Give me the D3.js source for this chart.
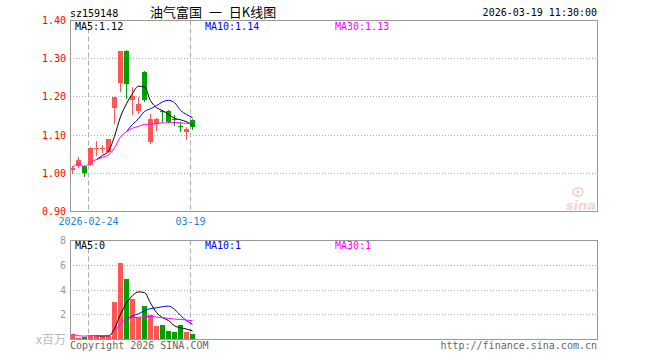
<!DOCTYPE html>
<html><head><meta charset="utf-8">
<script src="https://cdn.jsdelivr.net/npm/d3@7"></script>
<style>
body{margin:0;background:#fff;}
svg{display:block;}
text{font-family:"DejaVu Sans Mono",monospace;font-size:10px;}
</style></head><body>
<svg id="c" width="660" height="360"></svg>
<script>
// ---------------- data ----------------
const code = "sz159148";
const title = "油气富国 一 日K线图";
const stamp = "2026-03-19 11:30:00";
const dates = ["2026-02-11","2026-02-12","2026-02-13","2026-02-24","2026-02-25","2026-02-26","2026-02-27",
  "2026-03-02","2026-03-03","2026-03-04","2026-03-05","2026-03-06","2026-03-09","2026-03-10","2026-03-11",
  "2026-03-12","2026-03-13","2026-03-16","2026-03-17","2026-03-18","2026-03-19"];
const open  = [1.008,1.018,1.018,1.022,1.063,1.065,1.057,1.170,1.237,1.321,1.193,1.162,1.266,1.083,1.129,1.164,1.163,1.142,1.125,1.108,1.140];
const high  = [1.020,1.042,1.021,1.068,1.085,1.075,1.091,1.201,1.321,1.323,1.227,1.199,1.268,1.155,1.146,1.166,1.166,1.153,1.135,1.121,1.141];
const low   = [1.001,1.016,0.992,1.021,1.048,1.057,1.056,1.131,1.216,1.197,1.154,1.159,1.188,1.080,1.114,1.135,1.134,1.127,1.112,1.090,1.116];
const close = [1.015,1.035,1.002,1.065,1.065,1.067,1.090,1.200,1.320,1.233,1.203,1.182,1.192,1.142,1.143,1.160,1.135,1.140,1.123,1.116,1.122];
const volume = [0.45,0.15,0.22,0.37,0.37,0.29,0.28,3.05,6.20,4.90,3.30,1.80,2.74,1.98,1.10,1.17,0.68,0.60,1.17,0.60,0.44];
const ma5  = [null,null,null,null,1.036,1.047,1.058,1.097,1.148,1.182,1.209,1.228,1.226,1.190,1.172,1.164,1.154,1.144,1.140,1.135,1.127];
const ma10 = [null,null,null,null,null,null,null,null,null,1.109,1.128,1.143,1.162,1.169,1.177,1.187,1.191,1.185,1.165,1.154,1.146];
const ma30 = [1.015,1.025,1.017,1.029,1.036,1.042,1.048,1.067,1.095,1.109,1.118,1.123,1.128,1.129,1.130,1.132,1.132,1.133,1.132,1.131,1.131];
const vma5  = [null,null,null,null,0.312,0.280,0.306,0.872,2.038,2.944,3.546,3.850,3.788,2.944,2.184,1.758,1.534,1.106,0.944,0.844,0.698];
const vma10 = [null,null,null,null,null,null,null,null,null,1.628,1.913,2.078,2.330,2.491,2.564,2.652,2.692,2.447,1.944,1.514,1.228];
const vma30 = [0.450,0.300,0.273,0.298,0.312,0.308,0.304,0.648,1.264,1.628,1.780,1.782,1.855,1.864,1.813,1.773,1.709,1.647,1.622,1.571,1.517];
const priceTicks = [1.40,1.30,1.20,1.10,1.00,0.90];
const volTicks = [8,6,4,2];
const xTickDates = ["2026-02-24","2026-03-19"];
const xTickLabels = ["2026-02-24","03-19"];
const priceLegend = ["MA5:1.12","MA10:1.14","MA30:1.13"];
const volLegend = ["MA5:0","MA10:1","MA30:1"];
const volUnit = "x百万";

// ---------------- layout ----------------
const L = 70, R = 597;
const UP = "#ff5555", DOWN = "#00a000";
const maColors = ["#000000","#0000ff","#ff00ff"];
const svg = d3.select("#c");

const x = d3.scaleBand().domain(dates).range([L, L + 6*dates.length]);
const bw = x.bandwidth() - 1;
const cx = d => x(d) + bw/2;
const y = d3.scaleLinear().domain([0.9,1.4]).range([211.5,20.5]);
const yv = d3.scaleLinear().domain([0,8]).range([339.5,240.5]);
const snap = v => Math.round(v - 0.5) + 0.5;

// header
svg.append("text").attr("x",L).attr("y",16.5).attr("fill","#000").text(code);
svg.append("text").attr("x",150).attr("y",16.5).attr("fill","#000")
  .style("font-family","'Noto Sans CJK SC',sans-serif").style("font-size","13px")
  .style("word-spacing","4px")
  .attr("xml:space","preserve").style("white-space","pre").text(title);
svg.append("text").attr("x",R).attr("y",16).attr("text-anchor","end").attr("fill","#000").text(stamp);

function panel(ys, ticks, top, bottom, tickFmt, tickColor) {
  ticks.forEach(t => {
    const yy = snap(ys(t));
    if (Math.abs(yy - top) > 2 && Math.abs(yy - bottom) > 2)
      svg.append("line").attr("x1",L).attr("x2",R).attr("y1",yy).attr("y2",yy)
        .attr("stroke","#aaa").attr("stroke-dasharray","1,2");
    svg.append("text").attr("x",66).attr("y",ys(t)).attr("dy","0.35em").attr("text-anchor","end")
      .attr("fill",tickColor).text(tickFmt(t));
  });
  xTickDates.forEach(d => {
    svg.append("line").attr("x1",x(d)+0.5).attr("x2",x(d)+0.5).attr("y1",top).attr("y2",bottom)
      .attr("stroke","#aaa").attr("stroke-dasharray","5,3");
  });
}

// ---------- price panel ----------
panel(y, priceTicks, 20.5, 211.5, d3.format(".2f"), "#ff0000");

dates.forEach((d,i) => {
  const col = close[i] >= open[i] ? UP : DOWN;
  svg.append("line").attr("x1",x(d)+2.5).attr("x2",x(d)+2.5)
    .attr("y1",Math.round(y(high[i]))).attr("y2",Math.round(y(low[i]))+1).attr("stroke",col);
  const t = Math.round(y(Math.max(open[i],close[i])));
  const b = Math.round(y(Math.min(open[i],close[i])));
  svg.append("rect").attr("x",x(d)).attr("width",bw).attr("y",t).attr("height",Math.max(1,b-t))
    .attr("fill",col).attr("shape-rendering","crispEdges");
});

const mkLine = ys => d3.line().defined(v => v != null).x((v,i) => cx(dates[i])).y(v => ys(v)).curve(d3.curveMonotoneX);
[ma5, ma10, ma30].forEach((s,k) => {
  svg.append("path").attr("d", mkLine(y)(s)).attr("fill","none").attr("stroke",maColors[k]).attr("stroke-width",1);
});

svg.append("rect").attr("x",L+0.5).attr("y",20.5).attr("width",R-L).attr("height",191)
  .attr("fill","none").attr("stroke","#999");

[75,205,335].forEach((xx,k) => {
  svg.append("text").attr("x",xx).attr("y",29.5).attr("fill",maColors[k]).text(priceLegend[k]);
});

xTickDates.forEach((d,k) => {
  svg.append("text").attr("x",x(d)+0.5).attr("y",225).attr("text-anchor","middle")
    .attr("fill","#1a86d0").text(xTickLabels[k]);
});

// sina watermark
const wm = svg.append("g").attr("opacity",0.45);
wm.append("ellipse").attr("cx",578).attr("cy",192).attr("rx",5).attr("ry",4).attr("fill","none").attr("stroke","#e88").attr("stroke-width",1.5);
wm.append("circle").attr("cx",578).attr("cy",192).attr("r",1.8).attr("fill","#d99");
wm.append("text").attr("x",581).attr("y",210).attr("text-anchor","middle")
  .style("font-family","'DejaVu Sans',sans-serif").style("font-size","13px").style("font-style","italic").style("font-weight","bold")
  .attr("fill","#e9a0a0").text("sina");

// ---------- volume panel ----------
panel(yv, volTicks, 240.5, 339.5, d3.format("d"), "#999");

dates.forEach((d,i) => {
  const col = close[i] >= open[i] ? UP : DOWN;
  const t = Math.round(yv(volume[i]));
  svg.append("rect").attr("x",x(d)).attr("width",bw).attr("y",t).attr("height",339 - t)
    .attr("fill",col).attr("shape-rendering","crispEdges");
});
[vma5, vma10, vma30].forEach((s,k) => {
  svg.append("path").attr("d", mkLine(yv)(s)).attr("fill","none").attr("stroke",maColors[k]).attr("stroke-width",1);
});
svg.append("rect").attr("x",L+0.5).attr("y",240.5).attr("width",R-L).attr("height",99)
  .attr("fill","none").attr("stroke","#999");
[75,205,335].forEach((xx,k) => {
  svg.append("text").attr("x",xx).attr("y",249).attr("fill",maColors[k]).text(volLegend[k]);
});
svg.append("text").attr("x",66).attr("y",344).attr("text-anchor","end").attr("fill","#bbb")
  .style("font-family","'Noto Sans CJK SC',sans-serif").style("font-size","12px").text(volUnit);

svg.append("text").attr("x",L).attr("y",348.5).attr("fill","#666").text("Copyright 2026 SINA.COM");
svg.append("text").attr("x",R).attr("y",348.5).attr("text-anchor","end").attr("fill","#666").text("http://finance.sina.com.cn");
</script>
</body></html>
